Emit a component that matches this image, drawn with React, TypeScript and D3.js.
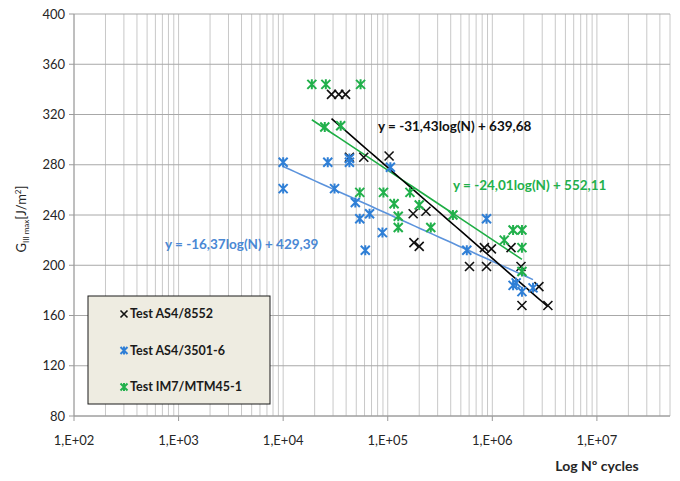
import * as d3 from "d3";

const W = 680;
const H = 481;

// y ticks and x decades
const yTicks = [80, 120, 160, 200, 240, 280, 320, 360, 400];
const xDecades = [1e2, 1e3, 1e4, 1e5, 1e6, 1e7];
const xLabels = ["1,E+02", "1,E+03", "1,E+04", "1,E+05", "1,E+06", "1,E+07"];

// Test AS4/8552  [cycles, G]
const blackCycles = [2.9e4, 3.4e4, 3.95e4, 4.3e4, 5.9e4, 1.03e5, 1.75e5, 2.32e5, 1.78e5, 2.0e5, 8.4e5, 9.8e5, 1.51e6, 6.05e5, 8.8e5, 1.88e6, 2.79e6, 3.4e6, 1.92e6];
const blackG = [336, 336, 336, 286, 286, 287, 241, 243, 218, 215, 214, 213, 214, 199, 199, 199, 183, 168, 168];

// Test AS4/3501-6
const blueCycles = [1.0e4, 1.0e4, 2.67e4, 3.1e4, 4.3e4, 4.3e4, 1.06e5, 4.9e4, 5.4e4, 6.7e4, 6.1e4, 8.9e4, 8.8e5, 5.7e5, 1.58e6, 1.92e6, 2.45e6, 1.69e6];
const blueG = [282, 261, 282, 261, 282, 285, 278, 250, 237, 241, 212, 226, 237, 212, 184, 179, 182, 186];

// Test IM7/MTM45-1
const greenCycles = [1.88e4, 2.56e4, 5.5e4, 2.5e4, 3.55e4, 5.4e4, 9.1e4, 1.15e5, 1.26e5, 1.26e5, 1.63e5, 2.0e5, 2.58e5, 4.2e5, 1.3e6, 1.58e6, 1.92e6, 1.92e6, 1.92e6];
const greenG = [344, 344, 344, 310, 311, 258, 258, 249, 239, 230, 258, 248, 230, 240, 220, 228, 228, 214, 195];

// log trendlines y = a*ln(N) + b
const fits = [
  { name: "black", a: -31.43, b: 639.68, label: "y = -31,43log(N) + 639,68" },
  { name: "green", a: -24.01, b: 552.11, label: "y = -24,01log(N) + 552,11" },
  { name: "blue", a: -16.37, b: 429.39, label: "y = -16,37log(N) + 429,39" },
];

const legendNames = ["Test AS4/8552", "Test AS4/3501-6", "Test  IM7/MTM45-1"];

const colors: Record<string, string> = {
  black: "#111111",
  blue: "#2f7fd6",
  green: "#21b04b",
};
const lineColors: Record<string, string> = {
  black: "#000000",
  blue: "#5b93dc",
  green: "#1fae45",
};

const margin = { left: 74, right: 10, top: 14, bottom: 65 };

export default function App() {
  const x = d3.scaleLog().domain([1e2, 5e7]).range([margin.left, 670]);
  const y = d3.scaleLinear().domain([80, 400]).range([416, 14]);

  // minor log grid
  const minor: number[] = [];
  for (const d of xDecades) {
    for (let k = 1; k <= 9; k++) {
      const v = d * k;
      if (v <= 5e7) minor.push(v);
    }
  }

  const series = [
    { name: "black", xs: blackCycles, ys: blackG },
    { name: "blue", xs: blueCycles, ys: blueG },
    { name: "green", xs: greenCycles, ys: greenG },
  ];

  const marker = (name: string, cx: number, cy: number, key: string | number, s = 4.5) => {
    const c = colors[name];
    if (name === "black") {
      return (
        <path key={key} d={`M${cx - s},${cy - s}L${cx + s},${cy + s}M${cx - s},${cy + s}L${cx + s},${cy - s}`} stroke={c} strokeWidth={1.6} fill="none" />
      );
    }
    return (
      <path
        key={key}
        d={`M${cx - s},${cy - s}L${cx + s},${cy + s}M${cx - s},${cy + s}L${cx + s},${cy - s}M${cx},${cy - s - 0.5}L${cx},${cy + s + 0.5}`}
        stroke={c}
        strokeWidth={2}
        fill="none"
      />
    );
  };

  const fitLine = (name: string) => {
    const f = fits.find((q) => q.name === name)!;
    const s = series.find((q) => q.name === name)!;
    const [lo, hi] = d3.extent(s.xs) as [number, number];
    const pts: [number, number][] = d3.range(0, 41).map((i) => {
      const n = Math.exp(Math.log(lo) + (Math.log(hi) - Math.log(lo)) * (i / 40));
      return [x(n), y(f.a * Math.log(n) + f.b)];
    });
    return <path key={"fit" + name} d={d3.line()(pts)!} stroke={lineColors[name]} strokeWidth={1.6} fill="none" />;
  };

  const font = "Lato, 'Open Sans', sans-serif";

  return (
    <div style={{ position: "fixed", left: 0, top: 0 }}>
      <svg width={W} height={H} style={{ display: "block", background: "#fff" }} fontFamily={font}>
        {/* vertical grid */}
        {minor.map((v) => (
          <line key={"vg" + v} x1={x(v)} x2={x(v)} y1={y(400)} y2={y(80)} stroke="#c8c8c8" strokeWidth={1} />
        ))}
        {/* horizontal grid */}
        {yTicks.map((t) => (
          <line key={"hg" + t} x1={x(1e2)} x2={x(5e7)} y1={y(t)} y2={y(t)} stroke="#a8a8a8" strokeWidth={1} />
        ))}
        {/* axes */}
        <line x1={x(1e2)} x2={x(1e2)} y1={y(400)} y2={y(80)} stroke="#9a9a9a" />
        <line x1={x(1e2)} x2={x(5e7)} y1={y(80)} y2={y(80)} stroke="#9a9a9a" />
        {yTicks.map((t) => (
          <line key={"yt" + t} x1={x(1e2) - 5} x2={x(1e2)} y1={y(t)} y2={y(t)} stroke="#9a9a9a" />
        ))}
        {xDecades.map((d) => (
          <line key={"xt" + d} x1={x(d)} x2={x(d)} y1={y(80)} y2={y(80) + 5} stroke="#9a9a9a" />
        ))}
        {yTicks.map((t) => (
          <text key={"yl" + t} x={x(1e2) - 9} y={y(t)} dy="0.35em" textAnchor="end" fontSize={13} fill="#262626">
            {t}
          </text>
        ))}
        {xDecades.map((d, i) => (
          <text key={"xl" + d} x={x(d)} y={y(80) + 29} textAnchor="middle" fontSize={13} fill="#262626">
            {xLabels[i]}
          </text>
        ))}

        {/* axis titles */}
        <text transform={`translate(26,${(y(80) + y(400)) / 2 + 4}) rotate(-90)`} textAnchor="middle" fontSize={13} fill="#262626">
          G<tspan fontSize={8} dy={3}>III max</tspan>
          <tspan dy={-3}>[J/m</tspan>
          <tspan fontSize={8} dy={-5}>2</tspan>
          <tspan dy={5}>]</tspan>
        </text>
        <text x={597} y={471} textAnchor="middle" fontSize={14} fontWeight="bold" fill="#262626">
          Log Nº cycles
        </text>

        {/* trendlines */}
        {fitLine("blue")}
        {fitLine("green")}
        {fitLine("black")}

        {/* points */}
        {series.map((s) => s.xs.map((n, i) => marker(s.name, x(n), y(s.ys[i]), s.name + i)))}

        {/* equations */}
        <text x={378} y={131} fontSize={13.5} fontWeight="bold" fill={colors.black}>{fits[0].label}</text>
        <text x={453} y={190} fontSize={13.5} fontWeight="bold" fill={colors.green}>{fits[1].label}</text>
        <text x={165} y={249} fontSize={13.5} fontWeight="bold" fill="#4a88d4">{fits[2].label}</text>

        {/* legend */}
        <rect x={88} y={296} width={182} height={108} fill="#eeece1" stroke="#1a1a1a" strokeWidth={1} />
        {legendNames.map((nm, i) => {
          const key = ["black", "blue", "green"][i];
          const ly = 314 + i * 36.5;
          return (
            <g key={"lg" + i}>
              {marker(key, 124, ly, "lm" + i, 3.5)}
              <text x={130} y={ly} dy="0.35em" fontSize={12.5} fontWeight="bold" fill="#1a1a1a">
                {nm}
              </text>
            </g>
          );
        })}
      </svg>
    </div>
  );
}
